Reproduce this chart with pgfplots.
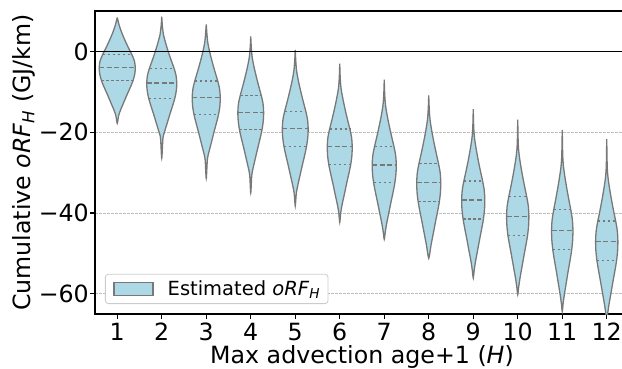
\documentclass[border=0pt]{standalone}
\usepackage{pgfplots}
\pgfplotsset{compat=1.18}
\usepackage{fontspec}
\setmainfont{DejaVu Sans}
\definecolor{lblue}{HTML}{ADD8E6}
\definecolor{vgray}{RGB}{120,120,120}
\definecolor{gridc}{RGB}{190,190,190}
\newcommand\tickfont{\fontsize{23.7}{28}\selectfont}
\newcommand\legfont{\fontsize{19.5}{24}\selectfont}
\pgfplotsset{
  vio/.style={smooth, tension=0.5, draw=vgray, fill=lblue, line width=1.3pt, mark=none},
  med/.style={draw=vgray, line width=1.3pt, dash pattern=on 5pt off 2.5pt, forget plot, mark=none},
  qrt/.style={draw=vgray, line width=1.3pt, dash pattern=on 2.5pt off 2.5pt, forget plot, mark=none},
}
\begin{document}
\begin{tikzpicture}
\begin{axis}[
  scale only axis, width=534pt, height=303pt,
  xmin=0.5, xmax=12.5, ymin=-65, ymax=10,
  xtick={1,2,3,4,5,6,7,8,9,10,11,12},
  xticklabels={1,2,3,4,5,6,7,8,9,10,11,12},
  ytick={-60,-40,-20,0},
  yticklabels={−60,−40,−20,0},
  tick align=outside, xtick pos=bottom, ytick pos=left,
  major tick length=4.9pt,
  tick style={black, line width=1.1pt},
  axis line style={black, line width=1.1pt},
  ymajorgrids, grid style={gridc, line width=0.8pt, dash pattern=on 2.8pt off 1.2pt},
  xticklabel style={font=\tickfont, inner sep=0pt, anchor=north, yshift=-4.1pt},
  yticklabel style={font=\tickfont, inner sep=0pt, anchor=east, xshift=-1.1pt},
  xlabel={Max advection age+1 (\textit{H})},
  ylabel={Cumulative \textit{oRF}\textsubscript{\textit{H}} (GJ/km)},
  every axis x label/.style={at={(axis description cs:0.5,0)}, anchor=base, yshift=-49pt, font=\tickfont, inner sep=0pt},
  every axis y label/.style={at={(axis description cs:-0.133,0.5)}, anchor=center, rotate=90, font=\tickfont, inner sep=0pt},
  legend style={at={(0.0187,0.033)}, anchor=south west, draw=black!20, line width=0.8pt, rounded corners=3pt, fill=white, font=\legfont, inner xsep=8pt, inner ysep=6.5pt, nodes={inner sep=0pt}, /tikz/every odd column/.append style={column sep=14pt}},
  legend image code/.code={\draw[sharp corners, draw=vgray, fill=lblue, line width=1.3pt] (0pt,-6.6pt) rectangle (39pt,6.6pt);},
]
% violin 1
\addplot[vio] coordinates {(1,8.4) (1.045,6.43) (1.105,4.53) (1.178,2.64) (1.259,0.74) (1.324,-0.68) (1.385,-2.34) (1.405,-4) (1.393,-5.66) (1.352,-7.32) (1.300,-8.74) (1.223,-10.64) (1.150,-12.53) (1.077,-14.43) (1.032,-15.85) (1,-17.8)
 (0.968,-15.85) (0.923,-14.43) (0.850,-12.53) (0.777,-10.64) (0.700,-8.74) (0.648,-7.32) (0.607,-5.66) (0.595,-4) (0.615,-2.34) (0.676,-0.68) (0.741,0.74) (0.822,2.64) (0.895,4.53) (0.955,6.43) (1,8.4)};
\addlegendentry{Estimated \textit{oRF}\textsubscript{\textit{H}}}
% violin 2
\addplot[vio, forget plot] coordinates {(2,8.6) (2.013,6.45) (2.037,4.26) (2.088,2.06) (2.148,-0.13) (2.216,-2.32) (2.270,-3.96) (2.320,-5.88) (2.337,-7.8) (2.327,-9.72) (2.293,-11.64) (2.249,-13.28) (2.185,-15.47) (2.125,-17.66) (2.064,-19.86) (2.027,-21.5) (2,-26.4)
 (1.973,-21.5) (1.936,-19.86) (1.875,-17.66) (1.815,-15.47) (1.751,-13.28) (1.707,-11.64) (1.673,-9.72) (1.663,-7.8) (1.680,-5.88) (1.730,-3.96) (1.784,-2.32) (1.852,-0.13) (1.912,2.06) (1.963,4.26) (1.987,6.45) (2,8.6)};
% violin 3
\addplot[vio, forget plot] coordinates {(3,6.7) (3.013,4.59) (3.035,2.13) (3.082,-0.33) (3.139,-2.79) (3.202,-5.25) (3.252,-7.09) (3.299,-9.25) (3.315,-11.4) (3.306,-13.55) (3.274,-15.71) (3.233,-17.55) (3.173,-20.01) (3.117,-22.47) (3.060,-24.93) (3.025,-26.78) (3,-31.4)
 (2.975,-26.78) (2.940,-24.93) (2.883,-22.47) (2.827,-20.01) (2.767,-17.55) (2.726,-15.71) (2.694,-13.55) (2.685,-11.4) (2.701,-9.25) (2.748,-7.09) (2.798,-5.25) (2.861,-2.79) (2.918,-0.33) (2.965,2.13) (2.987,4.59) (3,6.7)};
% violin 4
\addplot[vio, forget plot] coordinates {(4,3.7) (4.012,1.07) (4.032,-1.42) (4.075,-3.9) (4.128,-6.39) (4.186,-8.88) (4.232,-10.75) (4.276,-12.92) (4.29,-15.1) (4.281,-17.28) (4.252,-19.45) (4.215,-21.32) (4.160,-23.81) (4.107,-26.3) (4.055,-28.78) (4.023,-30.65) (4,-35)
 (3.977,-30.65) (3.945,-28.78) (3.893,-26.3) (3.840,-23.81) (3.785,-21.32) (3.748,-19.45) (3.719,-17.28) (3.71,-15.1) (3.724,-12.92) (3.768,-10.75) (3.814,-8.88) (3.872,-6.39) (3.925,-3.9) (3.968,-1.42) (3.988,1.07) (4,3.7)};
% violin 5
\addplot[vio, forget plot] coordinates {(5,0.4) (5.012,-2.36) (5.032,-4.93) (5.075,-7.51) (5.128,-10.08) (5.186,-12.66) (5.232,-14.59) (5.276,-16.85) (5.29,-19.1) (5.281,-21.35) (5.252,-23.61) (5.215,-25.54) (5.160,-28.12) (5.107,-30.69) (5.055,-33.27) (5.023,-35.2) (5,-38.2)
 (4.977,-35.2) (4.945,-33.27) (4.893,-30.69) (4.840,-28.12) (4.785,-25.54) (4.748,-23.61) (4.719,-21.35) (4.71,-19.1) (4.724,-16.85) (4.768,-14.59) (4.814,-12.66) (4.872,-10.08) (4.925,-7.51) (4.968,-4.93) (4.988,-2.36) (5,0.4)};
% violin 6
\addplot[vio, forget plot] coordinates {(6,-3) (6.011,-6.65) (6.031,-9.26) (6.073,-11.86) (6.123,-14.47) (6.179,-17.08) (6.224,-19.04) (6.266,-21.32) (6.28,-23.6) (6.272,-25.88) (6.244,-28.16) (6.207,-30.12) (6.154,-32.73) (6.104,-35.34) (6.053,-37.94) (6.022,-39.9) (6,-42.3)
 (5.978,-39.9) (5.947,-37.94) (5.896,-35.34) (5.846,-32.73) (5.793,-30.12) (5.756,-28.16) (5.728,-25.88) (5.72,-23.6) (5.734,-21.32) (5.776,-19.04) (5.821,-17.08) (5.877,-14.47) (5.927,-11.86) (5.969,-9.26) (5.989,-6.65) (6,-3)};
% violin 7
\addplot[vio, forget plot] coordinates {(7,-7) (7.011,-10.76) (7.030,-13.43) (7.070,-16.09) (7.119,-18.76) (7.173,-21.43) (7.216,-23.43) (7.257,-25.77) (7.27,-28.1) (7.262,-30.43) (7.235,-32.77) (7.2,-34.77) (7.149,-37.44) (7.1,-40.11) (7.051,-42.77) (7.022,-44.78) (7,-46.5)
 (6.978,-44.78) (6.949,-42.77) (6.9,-40.11) (6.851,-37.44) (6.8,-34.77) (6.765,-32.77) (6.738,-30.43) (6.73,-28.1) (6.743,-25.77) (6.784,-23.43) (6.827,-21.43) (6.881,-18.76) (6.93,-16.09) (6.97,-13.43) (6.989,-10.76) (7,-7)};
% violin 8
\addplot[vio, forget plot] coordinates {(8,-10.9) (8.011,-14.2) (8.030,-17.01) (8.070,-19.83) (8.119,-22.64) (8.173,-25.46) (8.216,-27.57) (8.257,-30.04) (8.27,-32.5) (8.262,-34.96) (8.235,-37.43) (8.2,-39.54) (8.149,-42.36) (8.1,-45.17) (8.051,-47.99) (8.022,-50.1) (8,-51.2)
 (7.978,-50.1) (7.949,-47.99) (7.9,-45.17) (7.851,-42.36) (7.8,-39.54) (7.765,-37.43) (7.738,-34.96) (7.73,-32.5) (7.743,-30.04) (7.784,-27.57) (7.827,-25.46) (7.881,-22.64) (7.93,-19.83) (7.97,-17.01) (7.989,-14.2) (8,-10.9)};
% violin 9
\addplot[vio, forget plot] coordinates {(9,-14.3) (9.01,-18.7) (9.029,-21.49) (9.068,-24.27) (9.114,-27.06) (9.166,-29.84) (9.208,-31.93) (9.247,-34.36) (9.26,-36.8) (9.252,-39.24) (9.226,-41.67) (9.192,-43.76) (9.143,-46.54) (9.096,-49.33) (9.049,-52.11) (9.021,-54.2) (9,-56.1)
 (8.979,-54.2) (8.951,-52.11) (8.904,-49.33) (8.857,-46.54) (8.808,-43.76) (8.774,-41.67) (8.748,-39.24) (8.74,-36.8) (8.753,-34.36) (8.792,-31.93) (8.834,-29.84) (8.886,-27.06) (8.932,-24.27) (8.971,-21.49) (8.99,-18.7) (9,-14.3)};
% violin 10
\addplot[vio, forget plot] coordinates {(10,-16.9) (10.01,-22.5) (10.028,-25.31) (10.065,-28.13) (10.11,-30.94) (10.16,-33.76) (10.2,-35.87) (10.238,-38.34) (10.25,-40.8) (10.243,-43.26) (10.218,-45.73) (10.185,-47.84) (10.138,-50.66) (10.093,-53.47) (10.048,-56.29) (10.02,-58.4) (10,-60.2)
 (9.98,-58.4) (9.952,-56.29) (9.907,-53.47) (9.862,-50.66) (9.815,-47.84) (9.782,-45.73) (9.757,-43.26) (9.75,-40.8) (9.762,-38.34) (9.8,-35.87) (9.84,-33.76) (9.89,-30.94) (9.935,-28.13) (9.972,-25.31) (9.99,-22.5) (10,-16.9)};
% violin 11
\addplot[vio, forget plot] coordinates {(11,-19.4) (11.01,-25.42) (11.026,-28.33) (11.062,-31.23) (11.106,-34.14) (11.154,-37.04) (11.192,-39.22) (11.228,-41.76) (11.24,-44.3) (11.233,-46.84) (11.209,-49.38) (11.178,-51.56) (11.132,-54.46) (11.089,-57.37) (11.046,-60.27) (11.019,-62.45) (11,-64.4)
 (10.981,-62.45) (10.954,-60.27) (10.911,-57.37) (10.868,-54.46) (10.822,-51.56) (10.791,-49.38) (10.767,-46.84) (10.76,-44.3) (10.772,-41.76) (10.808,-39.22) (10.846,-37.04) (10.894,-34.14) (10.938,-31.23) (10.974,-28.33) (10.99,-25.42) (11,-19.4)};
% violin 12
\addplot[vio, forget plot] coordinates {(12,-21.7) (12.01,-28.31) (12.028,-31.18) (12.065,-34.06) (12.11,-36.93) (12.16,-39.81) (12.2,-41.97) (12.238,-44.48) (12.25,-47) (12.243,-49.52) (12.218,-51.97) (12.185,-54.19) (12.138,-57.07) (12.093,-59.94) (12.048,-62.82) (12.02,-64.98) (12,-67)
 (11.98,-64.98) (11.952,-62.82) (11.907,-59.94) (11.862,-57.07) (11.815,-54.19) (11.782,-51.97) (11.757,-49.52) (11.75,-47) (11.762,-44.48) (11.8,-41.97) (11.84,-39.81) (11.89,-36.93) (11.935,-34.06) (11.972,-31.18) (11.99,-28.31) (12,-21.7)};
% quartile and median lines
\addplot[qrt] coordinates {(0.672,-0.8) (1.328,-0.8)};
\addplot[med] coordinates {(0.595,-4.0) (1.405,-4.0)};
\addplot[qrt] coordinates {(0.644,-7.2) (1.356,-7.2)};
\addplot[qrt] coordinates {(1.727,-4.3) (2.273,-4.3)};
\addplot[med] coordinates {(1.663,-7.8) (2.337,-7.8)};
\addplot[qrt] coordinates {(1.703,-11.7) (2.297,-11.7)};
\addplot[qrt] coordinates {(2.745,-7.3) (3.255,-7.3)};
\addplot[med] coordinates {(2.685,-11.4) (3.315,-11.4)};
\addplot[qrt] coordinates {(2.723,-15.6) (3.277,-15.6)};
\addplot[qrt] coordinates {(3.765,-10.9) (4.235,-10.9)};
\addplot[med] coordinates {(3.71,-15.1) (4.29,-15.1)};
\addplot[qrt] coordinates {(3.745,-19.3) (4.255,-19.3)};
\addplot[qrt] coordinates {(4.765,-14.9) (5.235,-14.9)};
\addplot[med] coordinates {(4.71,-19.1) (5.29,-19.1)};
\addplot[qrt] coordinates {(4.745,-23.6) (5.255,-23.6)};
\addplot[qrt] coordinates {(5.773,-19.2) (6.227,-19.2)};
\addplot[med] coordinates {(5.72,-23.6) (6.28,-23.6)};
\addplot[qrt] coordinates {(5.754,-28.0) (6.246,-28.0)};
\addplot[qrt] coordinates {(6.781,-23.5) (7.219,-23.5)};
\addplot[med] coordinates {(6.73,-28.1) (7.27,-28.1)};
\addplot[qrt] coordinates {(6.762,-32.5) (7.238,-32.5)};
\addplot[qrt] coordinates {(7.781,-27.7) (8.219,-27.7)};
\addplot[med] coordinates {(7.73,-32.5) (8.27,-32.5)};
\addplot[qrt] coordinates {(7.762,-37.2) (8.238,-37.2)};
\addplot[qrt] coordinates {(8.789,-32.1) (9.211,-32.1)};
\addplot[med] coordinates {(8.74,-36.8) (9.26,-36.8)};
\addplot[qrt] coordinates {(8.771,-41.5) (9.229,-41.5)};
\addplot[qrt] coordinates {(9.797,-36.0) (10.203,-36.0)};
\addplot[med] coordinates {(9.75,-40.8) (10.25,-40.8)};
\addplot[qrt] coordinates {(9.78,-45.5) (10.22,-45.5)};
\addplot[qrt] coordinates {(10.806,-39.2) (11.194,-39.2)};
\addplot[med] coordinates {(10.76,-44.3) (11.24,-44.3)};
\addplot[qrt] coordinates {(10.789,-49.0) (11.211,-49.0)};
\addplot[qrt] coordinates {(11.797,-42.0) (12.203,-42.0)};
\addplot[med] coordinates {(11.75,-47.0) (12.25,-47.0)};
\addplot[qrt] coordinates {(11.78,-51.7) (12.22,-51.7)};
% zero line
\addplot[black, line width=1.5pt, forget plot, mark=none] coordinates {(0.5,0) (12.5,0)};
\end{axis}
\pgfresetboundingbox
\path ([shift={(-95pt,-54pt)}]current axis.south west) rectangle ([shift={(527pt,314pt)}]current axis.south west);
\end{tikzpicture}
\end{document}
